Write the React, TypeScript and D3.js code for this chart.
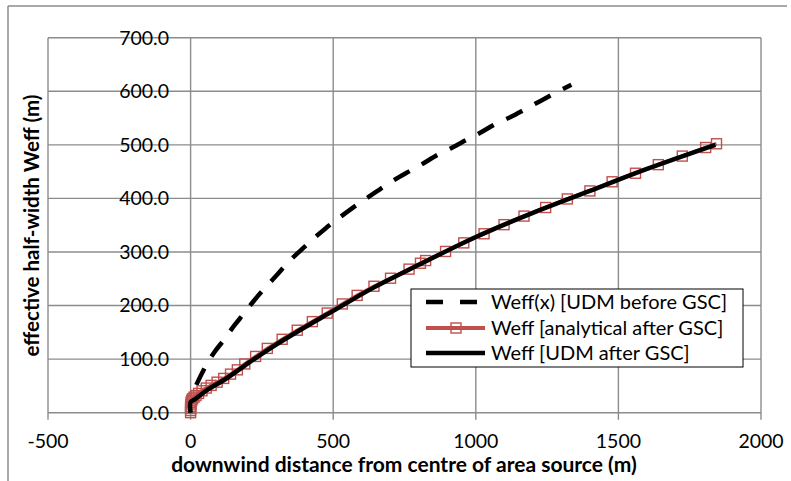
import React from "react";
import * as d3 from "d3";

const W = 791;
const H = 481;

const xTicks = [-500, 0, 500, 1000, 1500, 2000];
const yTicks = [0, 100, 200, 300, 400, 500, 600, 700];

// Weff(x) [UDM before GSC]
const beforeX = [20, 52, 82, 117, 152, 187, 222, 263, 304, 339, 386, 427, 473, 514, 567, 614, 666, 713, 765, 812, 865, 918, 970, 1017, 1069, 1122, 1175, 1227, 1280, 1335];
const beforeY = [52, 86, 112, 136, 162, 185, 209, 234, 258, 279, 303, 323, 344, 361, 382, 399, 418, 434, 450, 464, 481, 495, 510, 523, 539, 552, 567, 582, 597, 612];

// Weff [analytical after GSC]
const analX = [0, 0, 0, 0, 1, 2, 4, 7, 12, 19, 28, 40, 55, 72, 93, 116, 140, 164, 190, 228, 269, 321, 374, 427, 479, 532, 584, 643, 701, 766, 806, 824, 894, 958, 1029, 1099, 1169, 1245, 1321, 1400, 1478, 1560, 1640, 1724, 1806, 1844];
const analY = [0, 4, 8, 12, 16, 20, 23, 26, 29, 32, 36, 41, 46, 51, 57, 64, 72, 80, 91, 105, 120, 137, 154, 170, 186, 203, 219, 236, 251, 268, 279, 284, 301, 317, 334, 351, 367, 383, 399, 414, 431, 447, 463, 479, 495, 502];

// Weff [UDM after GSC]
const udmX = [0, 0, 15, 60, 120, 190, 270, 380, 500, 640, 800, 1000, 1200, 1400, 1600, 1840];
const udmY = [0, 20, 25, 43, 62, 88, 117, 153, 190, 233, 276, 328, 373, 414, 455, 500];

const legendLabels = ["Weff(x) [UDM before GSC]", "Weff [analytical after GSC]", "Weff [UDM after GSC]"];

const RED = "#c0504d";
const GRID = "#8c8c8c";
const FONT = "Lato, 'Open Sans', sans-serif";

export default function App() {
  const x = d3.scaleLinear().domain([-500, 2000]).range([48, 761]);
  const y = d3.scaleLinear().domain([0, 700]).range([412.7, 37.7]);

  const line = d3
    .line<[number, number]>()
    .x((d) => x(d[0]))
    .y((d) => y(d[1]));
  const smooth = d3
    .line<[number, number]>()
    .x((d) => x(d[0]))
    .y((d) => y(d[1]))
    .curve(d3.curveCatmullRom.alpha(0.5));

  const before: [number, number][] = beforeX.map((v, i) => [v, beforeY[i]]);
  const anal: [number, number][] = analX.map((v, i) => [v, analY[i]]);
  const udm: [number, number][] = udmX.map((v, i) => [v, udmY[i]]);

  const lg = { x: 411, y: 289, w: 332, h: 78 };
  const rows = [302, 328, 353];

  return (
    <svg
      width={W}
      height={H}
      style={{ position: "absolute", left: 0, top: 0, background: "#fff" }}
      fontFamily={FONT}
    >
      <rect x={0} y={0} width={W} height={H} fill="#fff" />
      {/* outer chart border */}
      <line x1={8} y1={6} x2={787} y2={6} stroke={GRID} strokeWidth={1.5} />
      <line x1={8} y1={6} x2={8} y2={H} stroke={GRID} strokeWidth={1.5} />

      {/* grid */}
      {yTicks.map((t) => (
        <line key={"gy" + t} x1={x(-500)} x2={x(2000)} y1={y(t)} y2={y(t)} stroke={GRID} strokeWidth={1.4} />
      ))}
      {xTicks.map((t) => (
        <line key={"gx" + t} x1={x(t)} x2={x(t)} y1={y(700)} y2={y(0) + 7} stroke={GRID} strokeWidth={1.4} />
      ))}

      {/* y tick labels */}
      {yTicks.map((t) => (
        <text key={"ly" + t} x={169} y={y(t) + 6.8} textAnchor="end" fontSize={19.5} fill="#000">
          {t.toFixed(1)}
        </text>
      ))}
      {/* x tick labels */}
      {xTicks.map((t) => (
        <text key={"lx" + t} x={x(t)} y={448} textAnchor="middle" fontSize={19.5} fill="#000">
          {t}
        </text>
      ))}

      {/* axis titles */}
      <text x={404} y={472} textAnchor="middle" fontSize={21} fontWeight="bold" fill="#000">
        downwind distance from centre of area source (m)
      </text>
      <text
        transform={`translate(38.5,225.5) rotate(-90)`}
        textAnchor="middle"
        fontSize={20.5}
        fontWeight="bold"
        fill="#000"
      >
        effective half-width Weff (m)
      </text>

      {/* series */}
      <path d={smooth(before) || ""} fill="none" stroke="#000" strokeWidth={4.5} strokeDasharray="18 14" />
      <path d={line(anal) || ""} fill="none" stroke={RED} strokeWidth={3.5} />
      {anal.map((d, i) => (
        <rect
          key={"m" + i}
          x={x(d[0]) - 5}
          y={y(d[1]) - 5}
          width={10}
          height={10}
          fill="none"
          stroke={RED}
          strokeWidth={1.4}
        />
      ))}
      <path d={smooth(udm) || ""} fill="none" stroke="#000" strokeWidth={4.5} strokeLinejoin="round" />

      {/* legend */}
      <rect x={lg.x} y={lg.y} width={lg.w} height={lg.h} fill="#fff" stroke="#000" strokeWidth={1} />
      <line x1={426} x2={482} y1={rows[0]} y2={rows[0]} stroke="#000" strokeWidth={4.5} strokeDasharray="17 17" />
      <line x1={426} x2={485} y1={rows[1]} y2={rows[1]} stroke={RED} strokeWidth={4} />
      <rect x={451} y={rows[1] - 5} width={10} height={10} fill="none" stroke={RED} strokeWidth={1.4} />
      <line x1={426} x2={485} y1={rows[2]} y2={rows[2]} stroke="#000" strokeWidth={4.5} />
      {legendLabels.map((s, i) => (
        <text key={"lg" + i} x={491} y={rows[i] + 7} fontSize={20} fill="#000">
          {s}
        </text>
      ))}
    </svg>
  );
}
